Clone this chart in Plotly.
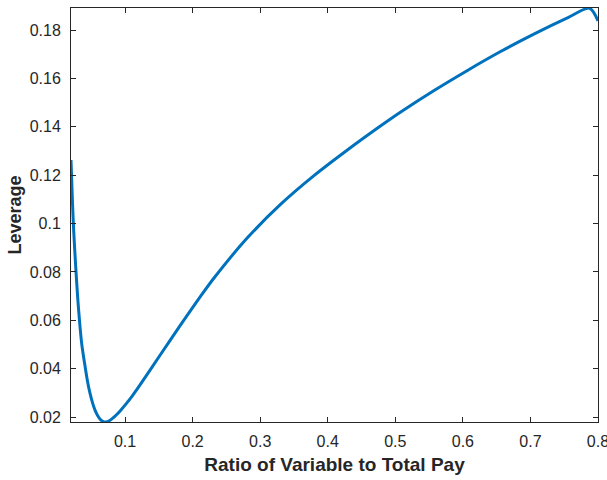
import plotly.graph_objects as go

ratio = [0.020, 0.022, 0.024, 0.027, 0.030, 0.033, 0.036, 0.040, 0.044, 0.048,
         0.052, 0.056, 0.060, 0.064, 0.068, 0.072, 0.076, 0.081, 0.087, 0.094,
         0.1015, 0.110, 0.1212, 0.152, 0.1817, 0.2114, 0.2311, 0.2807, 0.3301, 0.3796,
         0.4291, 0.4785, 0.508, 0.5574, 0.6068, 0.6558, 0.705, 0.754, 0.7875, 0.800]
leverage = [0.1263, 0.1100, 0.0970, 0.0820, 0.0690, 0.0585, 0.0500, 0.0425, 0.0355, 0.0300,
            0.0258, 0.0226, 0.0204, 0.0189, 0.0181, 0.0180, 0.0184, 0.0194, 0.0209, 0.0230,
            0.0255, 0.0285, 0.0329, 0.0457, 0.0579, 0.0698, 0.0773, 0.0940, 0.1079, 0.1198,
            0.1304, 0.1404, 0.1461, 0.1550, 0.1633, 0.1711, 0.1783, 0.1849, 0.1890, 0.1838]

x_ticks = [0.1, 0.2, 0.3, 0.4, 0.5, 0.6, 0.7, 0.8]
x_tick_labels = ["0.1", "0.2", "0.3", "0.4", "0.5", "0.6", "0.7", "0.8"]
y_ticks = [0.02, 0.04, 0.06, 0.08, 0.10, 0.12, 0.14, 0.16, 0.18]
y_tick_labels = ["0.02", "0.04", "0.06", "0.08", "0.1", "0.12", "0.14", "0.16", "0.18"]

axis_color = "#262626"
font_family = "Liberation Sans, Arial, Helvetica, sans-serif"

fig = go.Figure()
fig.add_trace(go.Scatter(
    x=ratio, y=leverage, mode="lines",
    line=dict(color="#0072BD", width=3, shape="spline", smoothing=0.8),
    showlegend=False, hoverinfo="skip",
))

common = dict(
    showgrid=False, zeroline=False, showline=True, linecolor=axis_color, linewidth=1,
    mirror="ticks", ticks="inside", ticklen=5, tickcolor=axis_color, tickwidth=1,
    tickfont=dict(family=font_family, size=16, color=axis_color),
    automargin=False, ticklabeloverflow="allow",
)

fig.update_layout(
    width=607, height=480,
    margin=dict(l=71, r=9, t=8, b=58),
    paper_bgcolor="white", plot_bgcolor="white",
    xaxis=dict(range=[0.02, 0.80001], tickvals=x_ticks, ticktext=x_tick_labels,
               ticklabelstandoff=5,
               title=dict(text="Ratio of Variable to Total Pay", standoff=8,
                          font=dict(family=font_family, size=19,
                                    color=axis_color, weight="bold")),
               **common),
    yaxis=dict(range=[0.0180, 0.1891], tickvals=y_ticks, ticktext=y_tick_labels,
               ticklabelstandoff=6,
               title=dict(text="Leverage", standoff=3,
                          font=dict(family=font_family, size=18,
                                    color=axis_color, weight="bold")),
               **common),
)

fig.write_html(
    "out.html",
    config={"displayModeBar": False},
    post_script="document.body.style.margin='0';document.body.style.overflow='hidden';",
)
